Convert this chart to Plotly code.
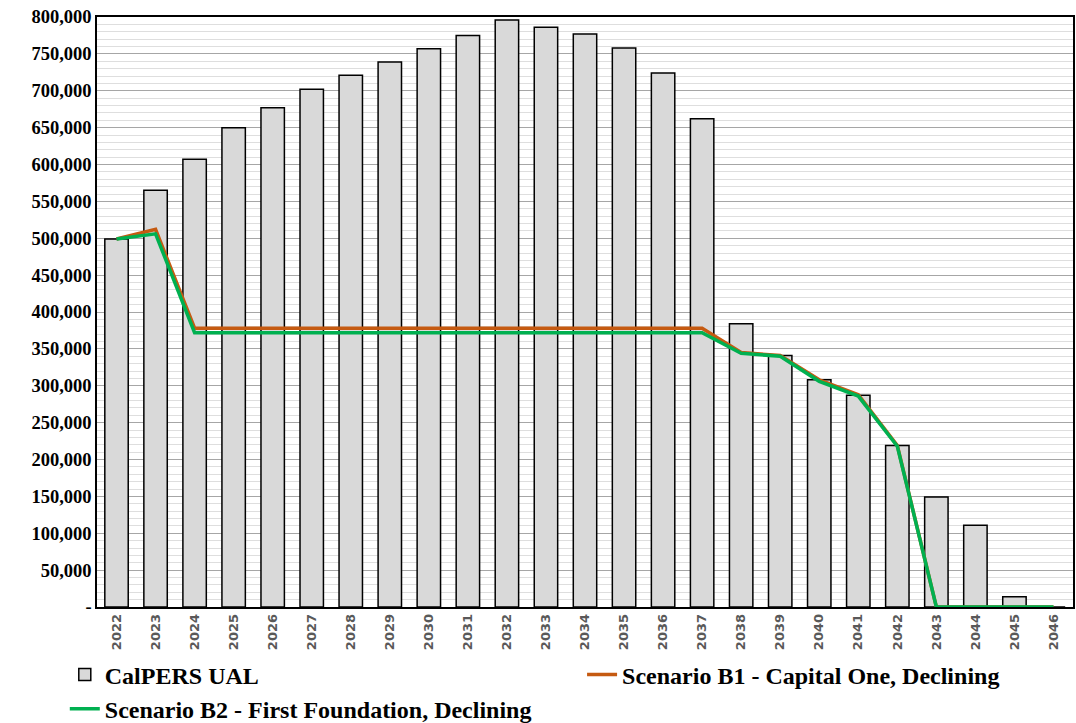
import plotly.graph_objects as go

years = [str(y) for y in range(2022, 2047)]
calpers_ual = [499000, 565000, 607000, 650000, 677000, 702000, 721000, 739000, 757000, 775000,
               796000, 786000, 777000, 758000, 724000, 662000, 384000, 341000, 308000, 287000,
               219000, 149000, 111000, 14000, 0]
scenario_b1 = [499000, 512000, 378000, 378000, 378000, 378000, 379000, 378000, 378000, 378000,
               378000, 378000, 378000, 378000, 378000, 378000, 345000, 341000, 308000, 288000,
               219000, 0, 0, 0, 0]
scenario_b2 = [499000, 506000, 372000, 372000, 372000, 372000, 372000, 372000, 372000, 372000,
               372000, 372000, 372000, 372000, 372000, 372000, 344000, 340000, 306000, 286000,
               218000, 0, 0, 0, 0]
y_tickvals = list(range(0, 800001, 50000))
y_ticktext = ["-"] + [f"{v:,}" for v in y_tickvals[1:]]

serif = "Liberation Serif"
legend_font = dict(family=serif, size=24, color="black", weight="bold")

fig = go.Figure()
fig.add_trace(go.Bar(
    x=years, y=calpers_ual, name="CalPERS UAL",
    marker=dict(color="#d9d9d9", line=dict(color="black", width=1.5)),
    width=0.6, legend="legend",
))
fig.add_trace(go.Scatter(
    x=years, y=scenario_b1, name="Scenario B1 - Capital One, Declining",
    mode="lines", line=dict(color="#c55a11", width=3.5), legend="legend2",
))
fig.add_trace(go.Scatter(
    x=years, y=scenario_b2, name="Scenario B2 - First Foundation, Declining",
    mode="lines", line=dict(color="#00b050", width=3.5), legend="legend3",
))

leg_common = dict(orientation="v", font=legend_font, itemwidth=30,
                  bgcolor="rgba(0,0,0,0)", xanchor="left", yanchor="middle")
fig.update_layout(
    width=1076, height=723,
    margin=dict(l=97, r=3, t=17, b=116, autoexpand=False),
    plot_bgcolor="white", paper_bgcolor="white",
    showlegend=True,
    legend=dict(x=-0.033, y=-0.115, **leg_common),
    legend2=dict(x=0.497, y=-0.115, **leg_common),
    legend3=dict(x=-0.033, y=-0.173, **leg_common),
    bargap=0.4,
)
fig.update_xaxes(
    type="category", tickangle=-90,
    tickfont=dict(family="DejaVu Sans", size=13, color="#595959", weight="bold"),
    showline=True, linecolor="black", linewidth=1.5, mirror=True,
    showgrid=False, ticks="", ticklabeloverflow="allow",
)
fig.update_yaxes(
    range=[0, 800000],
    tickvals=y_tickvals, ticktext=y_ticktext,
    tickfont=dict(family=serif, size=18.5, color="black", weight="bold"),
    showgrid=True, gridcolor="#a6a6a6", gridwidth=1,
    minor=dict(dtick=10000, showgrid=True, gridcolor="#dedede", gridwidth=1),
    showline=True, linecolor="black", linewidth=1.5, mirror=True,
    ticks="", zeroline=False, ticklabeloverflow="allow",
)

fig.write_html(
    "out.html",
    config={"displayModeBar": False},
    post_script="document.body.style.margin='0';document.body.style.overflow='hidden';",
)
